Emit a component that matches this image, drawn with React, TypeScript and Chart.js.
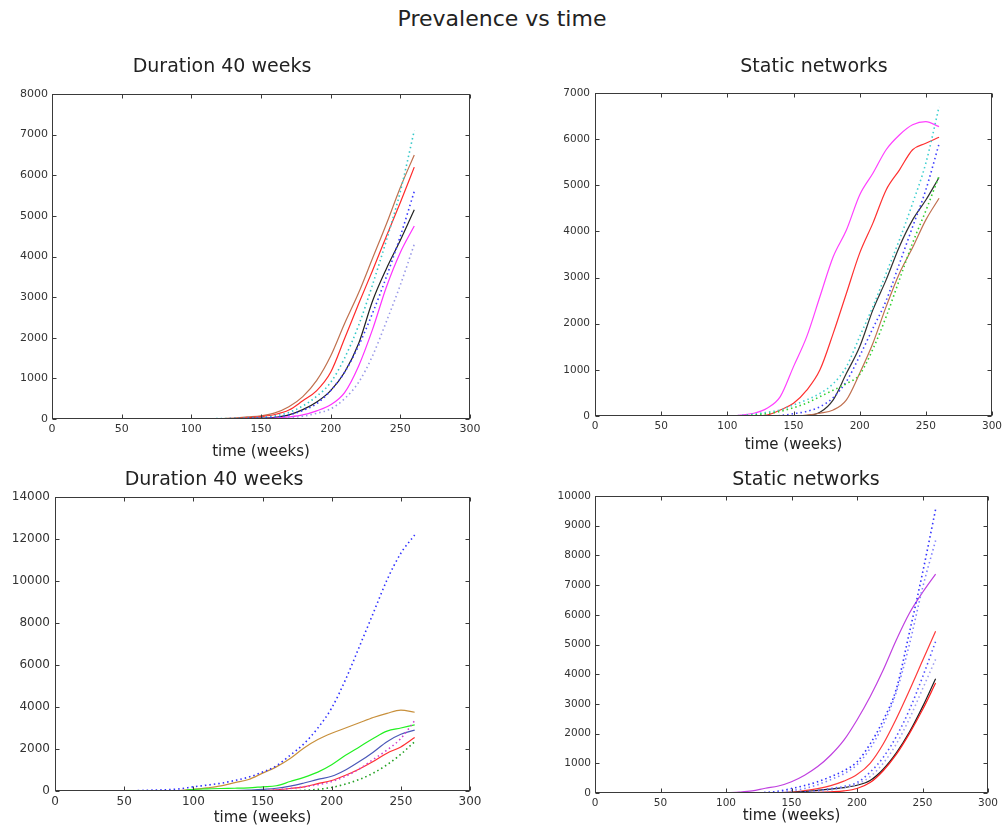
import React, { useEffect, useRef } from "react";
import { Chart, registerables } from "chart.js";

Chart.register(...registerables);

// ---------------- data ----------------
const WEEKS = [50, 60, 70, 80, 90, 100, 110, 120, 130, 140, 150, 160, 170, 180, 190, 200, 210, 220, 230, 240, 250, 260];

const X_TICKS = [0, 50, 100, 150, 200, 250, 300];

// Top-left: "Duration 40 weeks"
const TL_BROWN = [0, 0, 0, 0, 0, 0, 0, 5, 20, 50, 80, 150, 300, 550, 950, 1550, 2350, 3100, 3950, 4800, 5700, 6500];
const TL_RED = [0, 0, 0, 0, 0, 0, 0, 0, 10, 30, 60, 110, 220, 450, 700, 1150, 1980, 2830, 3650, 4500, 5330, 6200];
const TL_BLACK = [0, 0, 0, 0, 0, 0, 0, 0, 5, 10, 20, 40, 100, 230, 420, 700, 1150, 1850, 2900, 3700, 4400, 5150];
const TL_MAGENTA = [0, 0, 0, 0, 0, 0, 0, 0, 0, 5, 10, 20, 50, 100, 200, 350, 650, 1300, 2200, 3250, 4100, 4750];
const TL_CYAN_DOT = [0, 0, 0, 0, 0, 0, 5, 10, 15, 25, 40, 80, 160, 320, 560, 900, 1500, 2300, 3300, 4400, 5600, 7100];
const TL_BLUE_DOT = [0, 0, 0, 0, 0, 0, 0, 5, 10, 15, 25, 45, 100, 210, 380, 700, 1150, 1800, 2600, 3500, 4500, 5600];
const TL_LAV_DOT = [0, 0, 0, 0, 0, 0, 0, 0, 0, 5, 5, 10, 30, 70, 140, 250, 500, 900, 1550, 2400, 3300, 4300];

// Top-right: "Static networks"
const TR_MAGENTA = [0, 0, 0, 0, 0, 0, 20, 60, 170, 420, 1070, 1720, 2590, 3450, 4030, 4790, 5260, 5770, 6090, 6310, 6380, 6270];
const TR_RED = [0, 0, 0, 0, 0, 0, 0, 5, 20, 130, 275, 560, 1000, 1790, 2660, 3530, 4180, 4900, 5330, 5770, 5910, 6040];
const TR_BLACK = [0, 0, 0, 0, 0, 0, 0, 0, 0, 0, 0, 10, 80, 350, 925, 1500, 2300, 2950, 3670, 4250, 4680, 5170];
const TR_BROWN = [0, 0, 0, 0, 0, 0, 0, 0, 0, 0, 0, 20, 60, 130, 350, 925, 1575, 2370, 3090, 3650, 4250, 4720];
const TR_CYAN_DOT = [0, 0, 0, 0, 0, 0, 10, 40, 80, 130, 240, 350, 490, 700, 1070, 1720, 2370, 3090, 3815, 4610, 5480, 6700];
const TR_BLUE_DOT = [0, 0, 0, 0, 0, 0, 0, 0, 0, 10, 50, 100, 200, 400, 750, 1300, 1900, 2500, 3300, 4100, 4900, 5900];
const TR_GREEN_DOT = [0, 0, 0, 0, 0, 0, 0, 20, 50, 100, 180, 280, 420, 560, 700, 900, 1450, 2150, 2950, 3750, 4450, 5200];

// Bottom-left: "Duration 40 weeks"
const BL_BLUE_DOT = [0, 20, 40, 60, 100, 200, 280, 370, 500, 660, 900, 1200, 1700, 2250, 3000, 3950, 5300, 6870, 8460, 10050, 11320, 12190];
const BL_GOLD = [0, 0, 0, 0, 20, 80, 150, 240, 400, 550, 850, 1150, 1550, 2050, 2450, 2750, 3000, 3250, 3500, 3700, 3850, 3750];
const BL_GREEN = [0, 0, 0, 0, 0, 80, 100, 120, 130, 150, 200, 250, 450, 650, 900, 1250, 1700, 2100, 2500, 2850, 3000, 3150];
const BL_BLUE = [0, 0, 0, 0, 0, 0, 0, 10, 20, 40, 80, 130, 230, 380, 550, 700, 1000, 1400, 1850, 2350, 2700, 2900];
const BL_RED = [20, 20, 20, 20, 20, 20, 20, 20, 20, 20, 20, 60, 120, 200, 350, 500, 750, 1050, 1400, 1800, 2100, 2550];
const BL_GREEN_DOT = [0, 0, 0, 0, 0, 0, 0, 0, 0, 0, 0, 0, 10, 30, 80, 170, 330, 550, 850, 1250, 1750, 2350];
const BL_MAGENTA_DOT = [0, 0, 0, 0, 0, 0, 0, 0, 0, 0, 20, 60, 120, 200, 300, 450, 700, 1050, 1500, 1950, 2500, 3350];

// Bottom-right: "Static networks"
const BR_PURPLE = [0, 0, 0, 0, 0, 10, 30, 70, 160, 235, 380, 600, 890, 1280, 1780, 2460, 3240, 4140, 5150, 6050, 6750, 7370];
const BR_RED_HIGH = [0, 0, 0, 0, 0, 0, 0, 0, 0, 10, 30, 80, 150, 250, 400, 620, 1000, 1650, 2500, 3450, 4450, 5450];
const BR_BLACK = [0, 0, 0, 0, 0, 0, 0, 0, 0, 10, 20, 50, 90, 130, 180, 260, 420, 800, 1350, 2050, 2900, 3850];
const BR_RED_LOW = [0, 0, 0, 0, 0, 0, 0, 0, 0, 0, 0, 10, 20, 40, 70, 150, 350, 750, 1300, 2000, 2800, 3700];
const BR_BLUE_DOT_A = [0, 0, 0, 0, 0, 0, 0, 0, 20, 60, 150, 250, 380, 550, 750, 1050, 1650, 2450, 3500, 5400, 7400, 9550];
const BR_LAV_DOT_B = [0, 0, 0, 0, 0, 0, 0, 0, 0, 30, 80, 150, 280, 450, 650, 950, 1500, 2300, 3400, 5000, 6900, 8500];
const BR_BLUE_DOT_C = [0, 0, 0, 0, 0, 0, 0, 0, 0, 0, 0, 40, 80, 150, 220, 350, 700, 1200, 1900, 2800, 3900, 5100];
const BR_LAV_DOT_D = [0, 0, 0, 0, 0, 0, 0, 0, 0, 0, 0, 0, 50, 100, 180, 300, 550, 1000, 1650, 2500, 3500, 4500];

// ---------------- styling / layout ----------------
type Series = { name: string; values: number[]; color: string; dotted?: boolean };

type Panel = {
  title: string;
  left: number;
  top: number;
  width: number;
  height: number;
  yMax: number;
  yStep: number;
  tickSize: number;
  yAxisWidth: number;
  yTickPad: number;
  xAxisHeight: number;
  rightWidth: number;
  padRight: number;
  titlePadTop: number;
  titlePadBottom: number;
  series: Series[];
};

const FONT = "'DejaVu Sans', 'Liberation Sans', sans-serif";

const PANELS: Panel[] = [
  {
    title: "Duration 40 weeks",
    left: -26, top: 40, width: 510, height: 421,
    yMax: 8000, yStep: 1000, tickSize: 11,
    yAxisWidth: 78, yTickPad: 4, xAxisHeight: 42, rightWidth: 0, padRight: 14,
    titlePadTop: 16, titlePadBottom: 15.2,
    series: [
      { name: "lavender dotted", values: TL_LAV_DOT, color: "#9a9ae8", dotted: true },
      { name: "blue dotted", values: TL_BLUE_DOT, color: "#3a3aff", dotted: true },
      { name: "cyan dotted", values: TL_CYAN_DOT, color: "#35c8c8", dotted: true },
      { name: "magenta", values: TL_MAGENTA, color: "#ff30ff" },
      { name: "black", values: TL_BLACK, color: "#202020" },
      { name: "red", values: TL_RED, color: "#ff2a2a" },
      { name: "brown", values: TL_BROWN, color: "#c0704e" },
    ],
  },
  {
    title: "Static networks",
    left: 540, top: 40, width: 548, height: 414,
    yMax: 7000, yStep: 1000, tickSize: 10.5,
    yAxisWidth: 55, yTickPad: 5, xAxisHeight: 38, rightWidth: 96, padRight: 0,
    titlePadTop: 16, titlePadBottom: 14.2,
    series: [
      { name: "green dotted", values: TR_GREEN_DOT, color: "#30d030", dotted: true },
      { name: "blue dotted", values: TR_BLUE_DOT, color: "#4040ff", dotted: true },
      { name: "cyan dotted", values: TR_CYAN_DOT, color: "#40d0d0", dotted: true },
      { name: "brown", values: TR_BROWN, color: "#c07050" },
      { name: "black", values: TR_BLACK, color: "#303030" },
      { name: "red", values: TR_RED, color: "#ff3030" },
      { name: "magenta", values: TR_MAGENTA, color: "#ff40ff" },
    ],
  },
  {
    title: "Duration 40 weeks",
    left: -42, top: 455, width: 526, height: 372,
    yMax: 14000, yStep: 2000, tickSize: 12,
    yAxisWidth: 97, yTickPad: 5, xAxisHeight: 36, rightWidth: 0, padRight: 14,
    titlePadTop: 13.6, titlePadBottom: 5.6,
    series: [
      { name: "green dotted", values: BL_GREEN_DOT, color: "#20a020", dotted: true },
      { name: "magenta dotted", values: BL_MAGENTA_DOT, color: "#d040d0", dotted: true },
      { name: "blue dotted", values: BL_BLUE_DOT, color: "#3030ff", dotted: true },
      { name: "red", values: BL_RED, color: "#ff3030" },
      { name: "blue", values: BL_BLUE, color: "#4a58b8" },
      { name: "green", values: BL_GREEN, color: "#22f022" },
      { name: "gold", values: BL_GOLD, color: "#c8903c" },
    ],
  },
  {
    title: "Static networks",
    left: 540, top: 455, width: 532, height: 370,
    yMax: 10000, yStep: 1000, tickSize: 10.5,
    yAxisWidth: 55, yTickPad: 4, xAxisHeight: 32, rightWidth: 84, padRight: 0,
    titlePadTop: 13.6, titlePadBottom: 4.6,
    series: [
      { name: "lavender dotted D", values: BR_LAV_DOT_D, color: "#a0a0f0", dotted: true },
      { name: "blue dotted C", values: BR_BLUE_DOT_C, color: "#5050ff", dotted: true },
      { name: "lavender dotted B", values: BR_LAV_DOT_B, color: "#8080ff", dotted: true },
      { name: "blue dotted A", values: BR_BLUE_DOT_A, color: "#3030ff", dotted: true },
      { name: "red low", values: BR_RED_LOW, color: "#ff2020" },
      { name: "black", values: BR_BLACK, color: "#202020" },
      { name: "red high", values: BR_RED_HIGH, color: "#ff3a3a" },
      { name: "purple", values: BR_PURPLE, color: "#c040e0" },
    ],
  },
];

const framePlugin = {
  id: "matlabFrame",
  afterDraw(chart: any) {
    const ctx = chart.ctx;
    const xs = chart.scales.x;
    const ys = chart.scales.y;
    const l = Math.round(xs.getPixelForValue(xs.min)) + 0.5;
    const r = Math.round(xs.getPixelForValue(xs.max)) - 0.5;
    const t = Math.round(ys.getPixelForValue(ys.max)) + 0.5;
    const b = Math.round(ys.getPixelForValue(ys.min)) - 0.5;
    const len = 4;
    ctx.save();
    ctx.strokeStyle = "#3a3a3a";
    ctx.lineWidth = 1;
    ctx.strokeRect(l, t, r - l, b - t);
    ctx.beginPath();
    xs.ticks.forEach((tk: any) => {
      const px = Math.round(xs.getPixelForValue(tk.value)) + 0.5;
      ctx.moveTo(px, b);
      ctx.lineTo(px, b - len);
      ctx.moveTo(px, t);
      ctx.lineTo(px, t + len);
    });
    ys.ticks.forEach((tk: any) => {
      const py = Math.round(ys.getPixelForValue(tk.value)) + 0.5;
      ctx.moveTo(l, py);
      ctx.lineTo(l + len, py);
      ctx.moveTo(r, py);
      ctx.lineTo(r - len, py);
    });
    ctx.stroke();
    ctx.restore();
  },
};

function buildConfig(p: Panel): any {
  const datasets = p.series.map((s) => ({
    label: s.name,
    data: WEEKS.map((w, i) => ({ x: w, y: s.values[i] })),
    borderColor: s.color,
    backgroundColor: s.color,
    borderWidth: s.dotted ? 1.6 : 1.2,
    borderDash: s.dotted ? [1.5, 3] : [],
    pointRadius: 0,
    fill: false,
    cubicInterpolationMode: "monotone",
  }));

  const scales: any = {
    x: {
      type: "linear",
      min: X_TICKS[0],
      max: X_TICKS[X_TICKS.length - 1],
      grid: { display: false, drawTicks: false },
      border: { display: false },
      ticks: {
        stepSize: 50,
        padding: 4,
        color: "#333",
        font: { family: FONT, size: p.tickSize },
        maxRotation: 0,
        format: { useGrouping: false },
      },
      title: {
        display: true,
        text: "time (weeks)",
        color: "#222",
        padding: 0,
        font: { family: FONT, size: 15, lineHeight: 1.2 },
      },
      afterFit(s: any) {
        s.height = p.xAxisHeight;
        s.paddingLeft = 0;
        s.paddingRight = 0;
      },
    },
    y: {
      type: "linear",
      position: "left",
      min: 0,
      max: p.yMax,
      grid: { display: false, drawTicks: false },
      border: { display: false },
      ticks: {
        stepSize: p.yStep,
        padding: p.yTickPad,
        color: "#333",
        font: { family: FONT, size: p.tickSize },
        format: { useGrouping: false },
      },
      afterFit(s: any) {
        s.width = p.yAxisWidth;
        s.paddingTop = 0;
        s.paddingBottom = 0;
      },
    },
  };
  if (p.rightWidth > 0) {
    scales.yRight = {
      type: "linear",
      position: "right",
      display: true,
      grid: { display: false, drawTicks: false },
      border: { display: false },
      ticks: { display: false },
      afterFit(s: any) {
        s.width = p.rightWidth;
        s.paddingTop = 0;
        s.paddingBottom = 0;
      },
    };
  }

  return {
    type: "line",
    data: { datasets },
    options: {
      responsive: false,
      animation: false,
      maintainAspectRatio: false,
      layout: { padding: { left: 0, top: 0, bottom: 0, right: p.padRight } },
      plugins: {
        legend: { display: false },
        tooltip: { enabled: false },
        title: {
          display: true,
          text: p.title,
          color: "#222",
          fullSize: true,
          font: { family: FONT, size: 19, weight: "normal", lineHeight: 1.2 },
          padding: { top: p.titlePadTop, bottom: p.titlePadBottom },
        },
      },
      scales,
    },
    plugins: [framePlugin],
  };
}

function PanelChart({ panel }: { panel: Panel }) {
  const ref = useRef<HTMLCanvasElement | null>(null);
  useEffect(() => {
    if (!ref.current) return;
    const chart = new Chart(ref.current, buildConfig(panel));
    return () => chart.destroy();
  }, [panel]);
  return (
    <canvas
      ref={ref}
      width={panel.width}
      height={panel.height}
      style={{
        position: "absolute",
        left: panel.left,
        top: panel.top,
        width: panel.width,
        height: panel.height,
      }}
    />
  );
}

export default function App() {
  return (
    <div
      style={{
        position: "absolute",
        left: 0,
        top: 0,
        width: 1002,
        height: 829,
        overflow: "hidden",
        background: "#ffffff",
      }}
    >
      <div
        style={{
          position: "absolute",
          left: 0,
          top: 6,
          width: 1004,
          textAlign: "center",
          fontFamily: FONT,
          fontSize: 22,
          lineHeight: "26px",
          color: "#222",
        }}
      >
        Prevalence vs time
      </div>
      {PANELS.map((p, i) => (
        <PanelChart key={i} panel={p} />
      ))}
    </div>
  );
}
